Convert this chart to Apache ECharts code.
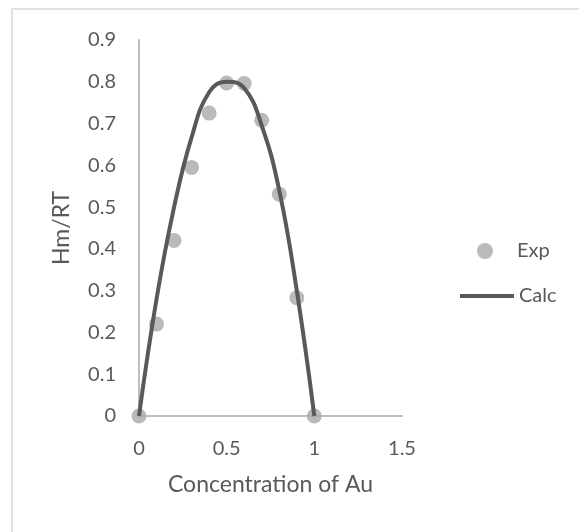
<!DOCTYPE html>
<html>
<head>
<meta charset="utf-8">
<script src="https://cdn.jsdelivr.net/npm/echarts@6/dist/echarts.min.js"></script>
<style>
html,body{margin:0;padding:0;background:#fff;}
#chart{width:579px;height:532px;}
</style>
</head>
<body>
<div id="chart"></div>
<script>
var xValues = [0, 0.1, 0.2, 0.3, 0.4, 0.5, 0.6, 0.7, 0.8, 0.9, 1.0];
var expValues = [0, 0.22, 0.42, 0.595, 0.725, 0.797, 0.796, 0.708, 0.531, 0.283, 0];
var calcValues = [0, 0.28, 0.50, 0.667, 0.775, 0.80, 0.785, 0.695, 0.54, 0.30, 0];
var xTicks = [0, 0.5, 1, 1.5];
var yTicks = [0, 0.1, 0.2, 0.3, 0.4, 0.5, 0.6, 0.7, 0.8, 0.9];

var FONT = 'Lato';
var TXT = '#595959';

var chart = echarts.init(document.getElementById('chart'));
chart.setOption({
  backgroundColor: '#ffffff',
  animation: false,
  textStyle: {fontFamily: FONT},
  graphic: [{
    type: 'rect',
    shape: {x: 12, y: 9, width: 700, height: 700},
    style: {fill: 'none', stroke: '#d9d9d9', lineWidth: 1.5},
    silent: true
  }],
  grid: {left: 139, right: 177, top: 40, bottom: 116},
  legend: [{
    data: ['Exp'],
    orient: 'vertical',
    left: 472, top: 236,
    itemWidth: 54, itemHeight: 16,
    textStyle: {color: TXT, fontSize: 20, fontFamily: FONT, lineHeight: 16}
  }, {
    data: [{name: 'Calc', icon: 'rect'}],
    orient: 'vertical',
    left: 455, top: 281,
    itemWidth: 54, itemHeight: 4,
    textStyle: {color: TXT, fontSize: 20, fontFamily: FONT, lineHeight: 16}
  }],
  xAxis: {
    type: 'value',
    min: xTicks[0], max: xTicks[xTicks.length - 1], interval: 0.5,
    name: 'Concentration of Au',
    nameLocation: 'middle', nameGap: 57,
    nameTextStyle: {color: TXT, fontSize: 23, fontFamily: FONT},
    axisLine: {show: true, lineStyle: {color: '#bfbfbf', width: 2}},
    axisTick: {show: false},
    splitLine: {show: false},
    axisLabel: {color: TXT, fontSize: 20, fontFamily: FONT, margin: 23}
  },
  yAxis: {
    type: 'value',
    min: yTicks[0], max: yTicks[yTicks.length - 1], interval: 0.1,
    name: 'Hm/RT',
    nameLocation: 'middle', nameGap: 66, nameRotate: 90,
    nameTextStyle: {color: TXT, fontSize: 23, fontFamily: FONT},
    axisLine: {show: true, lineStyle: {color: '#bfbfbf', width: 2}},
    axisTick: {show: false},
    splitLine: {show: false},
    axisLabel: {color: TXT, fontSize: 20, fontFamily: FONT, margin: 23,
      formatter: function (v) { return String(Math.round(v * 10) / 10); }}
  },
  series: [{
    name: 'Exp',
    type: 'scatter',
    symbol: 'circle',
    symbolSize: 15,
    itemStyle: {color: '#a9a9a9'},
    data: xValues.map(function (x, i) { return [x, expValues[i]]; }),
    z: 2
  }, {
    name: 'Calc',
    type: 'line',
    smooth: 0.45,
    symbol: 'none',
    lineStyle: {color: '#595959', width: 4},
    itemStyle: {color: '#595959'},
    data: xValues.map(function (x, i) { return [x, calcValues[i]]; }),
    z: 3
  }]
});
</script>
</body>
</html>
